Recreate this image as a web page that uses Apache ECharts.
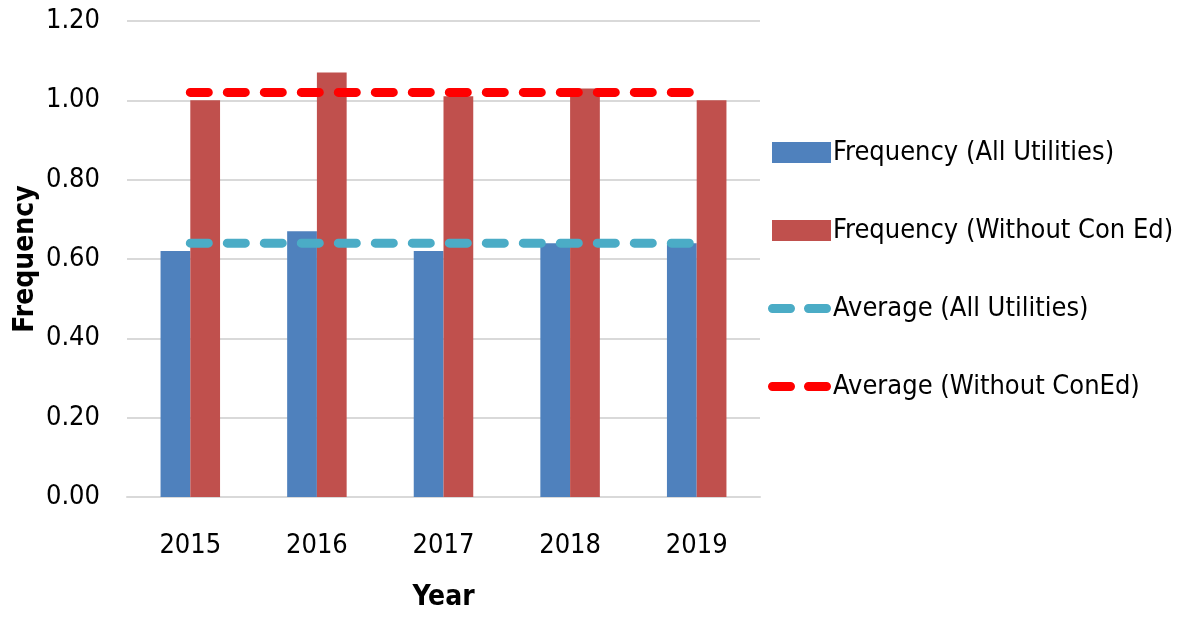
<!DOCTYPE html>
<html>

<head>
  <meta charset="UTF-8">
  <title>Frequency by Year</title>
  <script src="https://cdn.jsdelivr.net/npm/echarts@6/dist/echarts.min.js"></script>
  <style>
    html,
    body {
      margin: 0;
      padding: 0;
      background: #fff;
    }

    #chart {
      width: 1181px;
      height: 617px;
    }
  </style>
</head>

<body>
  <div id="chart"></div>
  <script>
    // chart values
    const years = ['2015', '2016', '2017', '2018', '2019'];
    const freqAll = [0.62, 0.67, 0.62, 0.64, 0.64];
    const freqNoConEd = [1.00, 1.07, 1.01, 1.03, 1.00];
    const avgAll = [0.64, 0.64, 0.64, 0.64, 0.64];
    const avgNoConEd = [1.02, 1.02, 1.02, 1.02, 1.02];

    const font = "'Liberation Sans Narrow', 'DejaVu Sans Condensed', sans-serif";

    // legend icons (padded to the same 63x21 box)
    const barIcon = 'path://M0,0 M63,21 M4,0 h59 v21 h-59 Z';
    const dashIcon = 'path://M0,0 M63,21 M4.5,6 h18 a4.5,4.5 0 0 1 0,9 h-18 a4.5,4.5 0 0 1 0,-9 Z ' +
      'M40.5,6 h18 a4.5,4.5 0 0 1 0,9 h-18 a4.5,4.5 0 0 1 0,-9 Z';

    const myChart = echarts.init(document.getElementById('chart'));

    const option = {
      animation: false,
      textStyle: { fontFamily: font },
      grid: { left: 127, right: 421, top: 21, bottom: 118 },
      legend: {
        orient: 'vertical',
        left: 763,
        top: 134,
        itemWidth: 63,
        itemHeight: 21,
        itemGap: 51,
        textStyle: { fontSize: 27, color: '#000', fontFamily: font, padding: [0, 0, 0, -3] },
        data: [
          { name: 'Frequency (All Utilities)', icon: barIcon },
          { name: 'Frequency (Without Con Ed)', icon: barIcon },
          { name: 'Average (All Utilities)', icon: dashIcon },
          { name: 'Average (Without ConEd)', icon: dashIcon }
        ]
      },
      xAxis: {
        type: 'category',
        data: years,
        name: 'Year',
        nameLocation: 'middle',
        nameGap: 87,
        nameMoveOverlap: false,
        nameTextStyle: { fontSize: 28, fontWeight: 'bold', color: '#000', fontFamily: font },
        axisLine: { lineStyle: { color: '#d9d9d9', width: 2 } },
        axisTick: { show: false },
        axisLabel: { fontSize: 27, color: '#000', margin: 35, fontFamily: font }
      },
      yAxis: {
        type: 'value',
        min: 0,
        max: 1.2,
        interval: 0.2,
        name: 'Frequency',
        nameLocation: 'middle',
        nameGap: 87,
        nameMoveOverlap: false,
        nameTextStyle: { fontSize: 28, fontWeight: 'bold', color: '#000', fontFamily: font },
        axisLine: { show: false },
        axisTick: { show: false },
        axisLabel: {
          fontSize: 27,
          color: '#000',
          margin: 27,
          fontFamily: font,
          formatter: v => v.toFixed(2)
        },
        splitLine: { lineStyle: { color: '#d9d9d9', width: 2 } }
      },
      series: [
        {
          name: 'Frequency (All Utilities)',
          type: 'bar',
          data: freqAll,
          barGap: '0%',
          barCategoryGap: '53%',
          itemStyle: { color: '#4F81BD' }
        },
        {
          name: 'Frequency (Without Con Ed)',
          type: 'bar',
          data: freqNoConEd,
          itemStyle: { color: '#C0504D' }
        },
        {
          name: 'Average (All Utilities)',
          type: 'line',
          data: avgAll,
          symbol: 'none',
          itemStyle: { color: '#4BACC6' },
          lineStyle: { color: '#4BACC6', width: 9, type: [18, 19], cap: 'round' },
          z: 5
        },
        {
          name: 'Average (Without ConEd)',
          type: 'line',
          data: avgNoConEd,
          symbol: 'none',
          itemStyle: { color: '#FF0000' },
          lineStyle: { color: '#FF0000', width: 9, type: [18, 19], cap: 'round' },
          z: 5
        }
      ]
    };

    myChart.setOption(option);
  </script>
</body>

</html>
